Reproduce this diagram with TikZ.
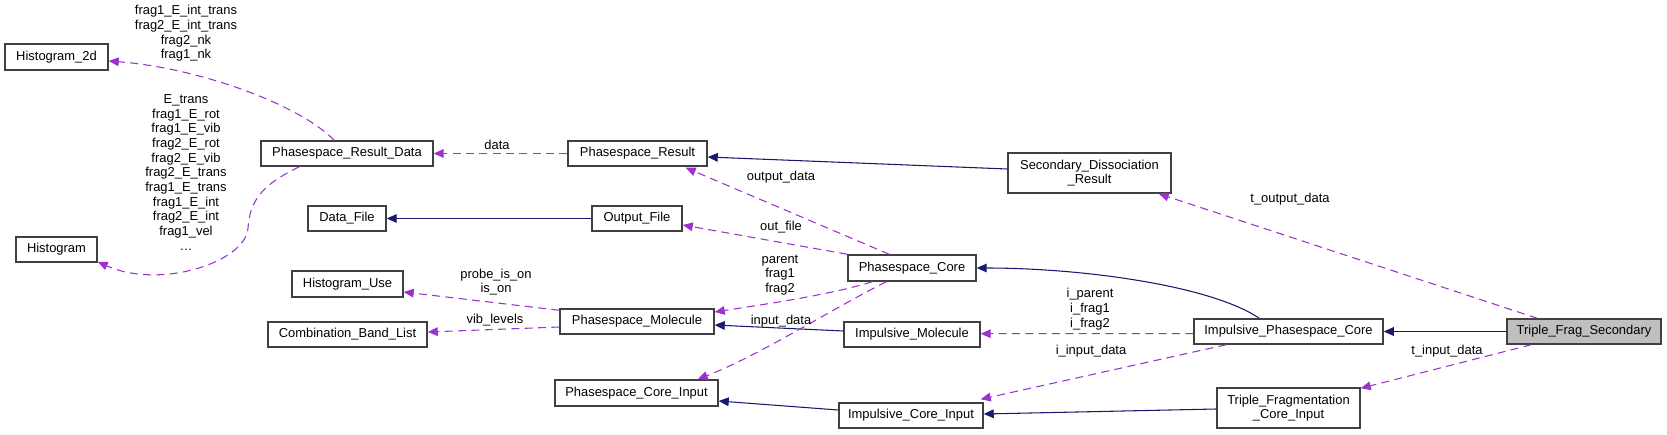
\documentclass[tikz,border=0pt]{standalone}
\usepackage{fontspec}
\setmainfont{Liberation Sans}
\usetikzlibrary{arrows.meta,calc}
\definecolor{navy}{HTML}{191970}
\definecolor{orch}{HTML}{9A32CD}
\definecolor{bord}{HTML}{404040}
\definecolor{cur}{HTML}{BFBFBF}
\begin{document}
\begin{tikzpicture}[x=0.75pt,y=-0.75pt,
  every node/.style={font=\fontsize{9.7}{11}\selectfont},
  cls/.style={draw=bord, line width=1.1pt, fill=white, inner sep=0pt, align=center},
  wh/.style 2 args={minimum width=#1*0.75pt, minimum height=#2*0.75pt},
  inh/.style={draw=navy, line width=0.8pt, -{Triangle[length=7.5pt,width=6.5pt]}},
  use/.style={draw=orch, line width=0.8pt, dash pattern=on 6pt off 4pt, -{Triangle[length=7.5pt,width=6.5pt,fill=orch]}},
  lbl/.style={inner sep=0pt, align=center}]
\useasboundingbox (0,0) rectangle (1667,435);

% nodes
\node[cls, wh={103}{26}] (h2d) at (56.5,57) {Histogram\_2d};
\node[cls, wh={172}{25}] (prd) at (347,153.5) {Phasespace\_Result\_Data};
\node[cls, wh={81}{25}] (hist) at (56.5,249.5) {Histogram};
\node[cls, wh={78}{25}] (df) at (347,218.5) {Data\_File};
\node[cls, wh={111}{26}] (hu) at (347.5,284) {Histogram\_Use};
\node[cls, wh={159}{25}] (cbl) at (347.5,334.5) {Combination\_Band\_List};
\node[cls, wh={139}{25}] (pr) at (637.5,153.5) {Phasespace\_Result};
\node[cls, wh={90}{25}] (of) at (637,218.5) {Output\_File};
\node[cls, wh={154}{25}] (pm) at (637,321.5) {Phasespace\_Molecule};
\node[cls, wh={163}{26}] (pci) at (636.5,393) {Phasespace\_Core\_Input};
\node[cls, wh={128}{26}] (pc) at (912,268) {Phasespace\_Core};
\node[cls, wh={136}{25}] (im) at (912,334.5) {Impulsive\_Molecule};
\node[cls, wh={144}{25}] (ici) at (911,415.5) {Impulsive\_Core\_Input};
\node[cls, wh={163}{40}] (sdr) at (1089.5,173) {Secondary\_Dissociation\\\_Result};
\node[cls, wh={189}{25}] (ipc) at (1288.5,331.5) {Impulsive\_Phasespace\_Core};
\node[cls, wh={143}{40}] (tfci) at (1288.5,408) {Triple\_Fragmentation\\\_Core\_Input};
\node[cls, wh={154}{25}, fill=cur] (tfs) at (1584,331.5) {Triple\_Frag\_Secondary};

% inheritance (solid)
\draw[inh] (of) -- (df);
\draw[inh] ($(sdr.west)+(0,-4)$) -- ($(pr.east)+(0,3.5)$);
\draw[inh] ($(ipc.north west)+(66,0)$) .. controls (1210,285) and (1080,268) .. (pc.east);
\draw[inh] ($(im.west)+(0,-3.5)$) -- ($(pm.east)+(0,3.5)$);
\draw[inh] ($(ici.west)+(0,-5.5)$) -- ($(pci.east)+(0,8)$);
\draw[inh] ($(tfci.west)+(0,1)$) -- ($(ici.east)+(0,-1.5)$);
\draw[inh] (tfs) -- (ipc);

% usage (dashed)
\draw[use] (prd) .. controls (300,105) and (200,68) .. (h2d);
\draw[use] ($(prd.south west)+(39,0)$) .. controls (262,185) and (250,200) .. (248,228)
   .. controls (246,262) and (160,290) .. ($(hist.south east)+(0,-1)$);
\draw[use] (pr) -- (prd);
\draw[use] ($(pc.north west)+(42,0)$) -- ($(pr.south east)+(-22,1)$);
\draw[use] (pc.north west) -- ($(of.east)+(0,6.5)$);
\draw[use] ($(pc.south west)+(25,0)$) .. controls (830,295) and (760,305) .. ($(pm.east)+(0,-9.5)$);
\draw[use] ($(pc.south west)+(39,0)$) .. controls (830,310) and (760,355) .. ($(pci.north east)+(-21,0)$);
\draw[use] ($(pm.north west)+(0,2)$) -- ($(hu.east)+(0,8)$);
\draw[use] ($(pm.west)+(0,5.5)$) -- ($(cbl.east)+(0,-2.5)$);
\draw[use] ($(ipc.west)+(0,2.2)$) -- ($(im.east)+(0,-0.8)$);
\draw[use] ($(ipc.south west)+(33,0)$) -- ($(ici.north east)+(-3,-3)$);
\draw[use] ($(tfs.north west)+(31,0)$) -- ($(sdr.south east)+(-13,0)$);
\draw[use] ($(tfs.south west)+(25,0)$) -- ($(tfci.north east)+(0,1)$);

% labels
\node[lbl] (l1) at (186,33.5) {frag1\_E\_int\_trans\\frag2\_E\_int\_trans\\frag2\_nk\\frag1\_nk};
\node[lbl] (l2) at (186,172.5) {E\_trans\\frag1\_E\_rot\\frag1\_E\_vib\\frag2\_E\_rot\\frag2\_E\_vib\\frag2\_E\_trans\\frag1\_E\_trans\\frag1\_E\_int\\frag2\_E\_int\\frag1\_vel\\…};
\node[lbl] (l3) at (497,145) {data};
\node[lbl] (l4) at (781,177) {output\_data};
\node[lbl] (l5) at (781,227) {out\_file};
\node[lbl] (l6) at (780,275) {parent\\frag1\\frag2};
\node[lbl] (l7) at (496,282) {probe\_is\_on\\is\_on};
\node[lbl] (l8) at (495,320) {vib\_levels};
\node[lbl] (l9) at (781,321) {input\_data};
\node[lbl] (l10) at (1090,309) {i\_parent\\i\_frag1\\i\_frag2};
\node[lbl] (l11) at (1091,351) {i\_input\_data};
\node[lbl] (l12) at (1290,199) {t\_output\_data};
\node[lbl] (l13) at (1447,351) {t\_input\_data};
\end{tikzpicture}
\end{document}
